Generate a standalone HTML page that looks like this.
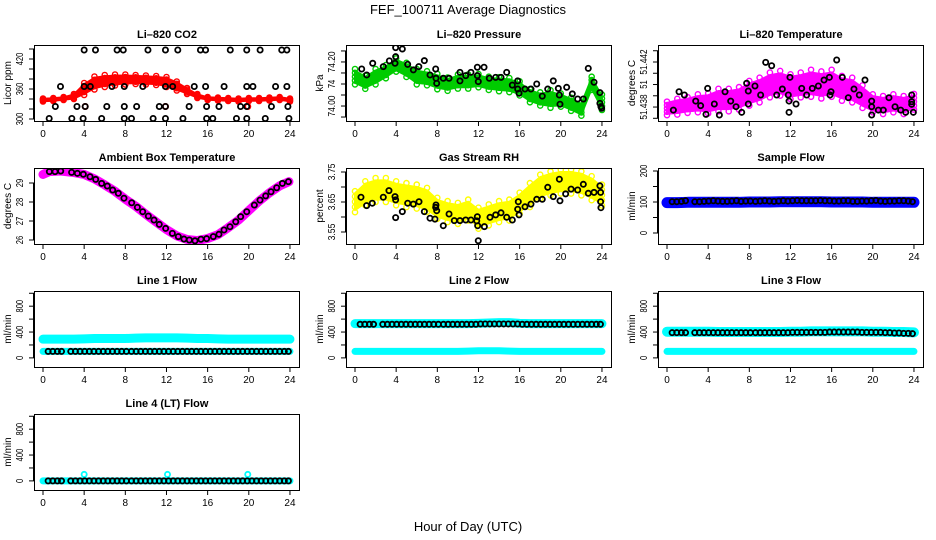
<!DOCTYPE html>
<html><head><meta charset="utf-8"><title>FEF_100711 Average Diagnostics</title>
<style>
html,body{margin:0;padding:0;background:#fff;}
svg{display:block;font-family:"Liberation Sans",Arial,sans-serif;}
</style></head>
<body>
<svg id="chart" width="936" height="540" viewBox="0 0 936 540" xmlns="http://www.w3.org/2000/svg">
<rect x="0" y="0" width="936" height="540" fill="#fff"/>
<text x="468" y="14" text-anchor="middle" font-size="13">FEF_100711  Average Diagnostics</text>
<text x="468" y="531" text-anchor="middle" font-size="13">Hour of Day (UTC)</text>
</svg>
<script>
// ---------- data ----------
const HOURS25 = [0,1,2,3,4,5,6,7,8,9,10,11,12,13,14,15,16,17,18,19,20,21,22,23,24];
const XTICKS = [0,4,8,12,16,20,24];

// Li-820 CO2
const co2Center = [338,339,341,345,360,372,376,378,379,379,378,377,374,366,356,346,341,340,339,338,339,339,340,341,338];
const co2Spread = [3,3,3,5,12,13,12,11,10,9,9,9,10,9,6,4,3,3,3,3,3,3,3,3,3];
const co2RedHours = [4.1,11.9,19.9];
const co2RedVals = [325,325,325];
const co2BlackHours = [4.0,5.1,7.2,7.8,10.2,11.9,13.1,15.3,15.8,18.2,19.8,21.1,23.2,23.7,
 1.7,4.0,4.6,6.7,7.9,9.7,11.9,12.6,14.7,15.8,17.6,19.8,20.4,22.6,23.7,
 1.2,3.3,4.1,6.2,7.9,9.1,11.3,11.9,14.2,15.9,17.1,19.2,19.8,22.2,23.8,
 0.6,2.8,3.9,5.7,7.9,8.6,10.7,11.9,13.6,15.9,16.5,18.8,19.8,21.6,23.9];
const co2BlackVals = [438,438,438,438,438,438,438,438,438,438,438,438,438,438,
 365,365,365,365,365,365,365,365,365,365,365,365,365,365,365,
 325,325,325,325,325,325,325,325,325,325,325,325,325,325,325,
 301,301,301,301,301,301,301,301,301,301,301,301,301,301,301];

// Li-820 Pressure
const presCenter = [74.133,74.108,74.133,74.156,74.186,74.164,74.133,74.126,74.111,74.099,74.111,74.111,74.115,74.103,74.099,74.095,74.080,74.047,74.032,74.032,74.027,74.008,73.986,74.103,74.017];
const presSpread = [0.035,0.03,0.035,0.03,0.03,0.032,0.035,0.032,0.035,0.03,0.032,0.032,0.03,0.03,0.032,0.032,0.032,0.03,0.03,0.04,0.03,0.03,0.03,0.03,0.035];
const presBlackHours = [0.65,1.14,1.72,2.75,3.34,3.95,3.95,3.89,4.6,5.12,5.67,6.2,6.74,7.29,7.84,7.87,7.94,8.58,9.14,10.2,10.2,10.76,11.27,11.89,11.89,11.98,12.54,13.05,13.67,14.19,14.74,15.29,15.81,15.81,15.94,16.52,17.1,17.66,18.2,18.73,19.27,19.76,19.86,19.92,20.57,21.12,21.64,22.19,22.67,23.23,23.8,23.8,23.9,23.97];
const presBlackVals = [74.168,74.141,74.194,74.179,74.205,74.265,74.224,74.194,74.259,74.189,74.164,74.179,74.206,74.141,74.168,74.126,74.103,74.126,74.126,74.153,74.114,74.138,74.153,74.176,74.138,74.111,74.176,74.126,74.13,74.13,74.153,74.095,74.114,74.077,74.058,74.077,74.077,74.1,74.045,74.077,74.114,74.08,74.05,74.008,74.085,74.055,74.032,74.032,74.171,74.108,74.061,74.012,73.997,73.99];

// Li-820 Temperature
const tempCenter = [51.43788,51.43803,51.43818,51.43833,51.43833,51.43862,51.43862,51.43877,51.43922,51.43951,51.43996,51.44011,51.43981,51.43996,51.44011,51.43996,51.44011,51.43966,51.43951,51.43892,51.43833,51.43818,51.43833,51.43818,51.43847];
const tempSpread = [0.0006,0.0007,0.0007,0.0008,0.0009,0.0010,0.0010,0.0010,0.0011,0.0011,0.0011,0.0011,0.0011,0.0011,0.0012,0.0012,0.0012,0.0011,0.0011,0.0010,0.0008,0.0008,0.0008,0.0008,0.0007];
const tempBlackHours = [0.62,1.17,1.69,2.79,3.27,3.79,3.95,4.6,5.09,5.64,6.19,6.71,7.26,7.74,7.9,7.9,8.55,9.1,9.59,10.17,10.66,11.21,11.79,11.86,11.95,11.86,12.54,13.09,13.57,14.12,14.71,15.26,15.78,15.84,15.94,16.49,17.04,17.62,18.17,18.69,19.24,19.89,19.89,19.89,20.54,21.02,21.57,22.16,22.71,23.2,23.78,23.78,23.78,23.94];
const tempBlackVals = [51.43773,51.43936,51.43907,51.43853,51.43812,51.43735,51.43966,51.43827,51.43729,51.43936,51.43853,51.43803,51.43753,51.44011,51.43942,51.43827,51.43987,51.43907,51.44197,51.44167,51.43907,51.4396,51.43907,51.43853,51.44064,51.43753,51.43827,51.43966,51.43907,51.43966,51.43987,51.4404,51.44064,51.43907,51.43936,51.44218,51.44064,51.43883,51.4396,51.43907,51.4404,51.43853,51.43803,51.43729,51.43773,51.43773,51.43883,51.43803,51.43773,51.43753,51.43907,51.43847,51.43824,51.43753];

// Ambient Box Temperature
const ambMagHours = [0,0.6,1.7,3,4,5,6,7,8,9,10,11,12,13,14,15,16,17,18,19,20,21,22,23,23.9];
const ambMagVals = [29.45,29.6,29.63,29.55,29.45,29.22,28.9,28.56,28.15,27.78,27.35,26.95,26.55,26.22,26.03,25.97,26.08,26.28,26.65,27.05,27.55,28.05,28.48,28.85,29.07];
const ambBlackHours = [0.62,1.17,1.72,2.78,3.34,3.92,4.57,5.12,5.7,6.25,6.77,7.32,7.87,8.62,9.17,9.69,10.24,10.79,11.3,11.92,12.57,13.15,13.7,14.22,14.77,15.35,15.9,16.55,17.1,17.59,18.17,18.73,19.21,19.8,20.54,21.09,21.64,22.16,22.71,23.26,23.85];
const ambBlackVals = [29.6,29.6,29.63,29.56,29.51,29.46,29.33,29.19,28.98,28.84,28.63,28.46,28.2,27.96,27.72,27.49,27.26,27.05,26.82,26.61,26.35,26.18,26.05,26.0,25.96,26.04,26.07,26.18,26.3,26.53,26.7,26.96,27.23,27.49,27.84,28.1,28.32,28.54,28.75,28.98,29.07];

// Gas Stream RH
const rhCenter = [3.651,3.679,3.69,3.69,3.679,3.673,3.668,3.657,3.629,3.618,3.612,3.623,3.596,3.607,3.618,3.623,3.646,3.673,3.701,3.712,3.718,3.718,3.712,3.696,3.673];
const rhSpread = [0.035,0.04,0.04,0.04,0.04,0.04,0.04,0.04,0.035,0.035,0.035,0.035,0.035,0.035,0.035,0.035,0.035,0.04,0.04,0.04,0.04,0.04,0.04,0.04,0.035];
const rhBlackHours = [0.58,1.13,1.68,2.75,3.3,3.89,3.95,3.95,4.6,5.12,5.67,6.22,6.74,7.29,7.77,7.84,7.87,7.94,8.58,9.14,9.65,10.2,10.76,11.27,11.83,11.89,11.92,11.98,12.57,13.12,13.67,14.19,14.74,15.29,15.81,15.87,15.94,16.52,17.1,17.66,18.2,18.73,19.27,19.86,19.92,20.47,21.0,21.64,22.19,22.67,23.23,23.8,23.87,23.87,23.9];
const rhBlackVals = [3.666,3.638,3.646,3.666,3.688,3.668,3.657,3.598,3.618,3.646,3.643,3.651,3.618,3.596,3.593,3.632,3.64,3.621,3.571,3.61,3.588,3.588,3.59,3.59,3.587,3.601,3.571,3.521,3.568,3.599,3.607,3.614,3.599,3.59,3.626,3.651,3.607,3.634,3.643,3.659,3.659,3.699,3.668,3.726,3.654,3.677,3.693,3.69,3.709,3.679,3.682,3.704,3.682,3.651,3.631];

// Flows
const sampleBlue = [98,98,99,99,99,99,99,99,100,100,100,101,101,101,101,101,100,100,100,100,99,99,99,99,99];
const line1Upper = [290,290,290,290,295,300,300,300,300,305,310,310,310,310,305,300,300,295,290,290,290,290,290,290,290];
const line1Lower = [100,100,100,100,100,100,100,100,100,100,100,100,100,100,100,100,100,100,100,100,100,100,100,100,100];
const line2Upper = [530,530,530,530,530,530,530,530,530,530,530,530,535,540,545,545,535,530,530,530,530,530,530,530,530];
const line2Lower = [100,100,100,100,100,100,100,100,100,100,100,105,110,110,110,105,100,100,100,100,100,100,100,100,100];
const line3Upper = [405,405,405,405,405,400,400,400,400,400,400,400,405,405,410,410,410,410,410,410,405,405,400,400,395];
const line3Lower = [100,100,100,100,100,100,100,100,100,100,100,100,100,100,100,100,100,100,100,100,100,100,100,100,100];
const line4Cyan = [0,0,0,0,0,0,0,0,0,0,0,0,0,0,0,0,0,0,0,0,0,0,0,0,0];
const line4OutHours = [4.0,12.1,19.9];
const line4OutVals = [100,100,100];
const flowHours = [0.5,0.95,1.4,1.8,2.7,3.15,3.6,4.05,4.5,4.95,5.4,5.85,6.3,6.75,7.2,7.65,8.1,8.6,9.05,9.5,9.95,10.4,10.85,11.3,11.75,12.2,12.65,13.1,13.55,14.0,14.45,14.9,15.35,15.8,16.25,16.7,17.15,17.6,18.05,18.5,18.95,19.4,19.85,20.3,20.75,21.2,21.65,22.1,22.55,23.0,23.45,23.85];
const sampleBlack = [101,101,102,104,101,101,102,103,104,103,102,102,103,104,102,103,103,102,103,104,103,102,103,104,103,104,105,104,104,104,104,105,104,104,103,103,104,104,102,102,103,103,104,105,103,102,103,103,104,104,103,101];
const line1Black = [100,100,100,100,100,100,100,100,100,100,100,100,100,100,100,100,100,100,100,100,100,100,100,100,100,100,100,100,100,100,100,100,100,100,100,100,100,100,100,100,100,100,100,100,100,100,100,100,100,100,100,100];
const line2Black = [520,520,520,520,520,520,520,520,520,520,520,520,520,520,520,520,520,520,520,520,520,520,520,520,520,525,525,525,525,525,525,525,525,525,520,520,520,520,520,520,520,520,520,520,520,520,520,520,520,520,520,520];
const line3Black = [390,390,390,390,390,390,390,390,390,390,390,390,390,390,390,390,390,390,390,390,390,390,390,390,390,395,395,395,395,395,395,395,395,400,400,400,400,400,400,400,395,395,395,395,395,390,390,385,385,380,380,375];
const line4Black = [0,0,0,0,0,0,0,0,0,0,0,0,0,0,0,0,0,0,0,0,0,0,0,0,0,0,0,0,0,0,0,0,0,0,0,0,0,0,0,0,0,0,0,0,0,0,0,0,0,0,0,0];

// ---------- drawing ----------
const svg = document.getElementById('chart');
const NS = 'http://www.w3.org/2000/svg';
const ROW_TOPS = [45,168,291,414];
function mk(tag, attrs, parent){
  const e = document.createElementNS(NS, tag);
  for (const k in attrs) e.setAttribute(k, attrs[k]);
  (parent || svg).appendChild(e);
  return e;
}
const defs = mk('defs', {});
let clipId = 0;

function makePanel(c, r, lo, hi, title, ylab, ticks, tickLabels, slug){
  const left = 34 + 312*c, right = 300 + 312*c, top = ROW_TOPS[r], bottom = top + 76;
  const g = mk('g', {});
  
  
  const P = {g, left, right, top, bottom,
    xs: h => left + 9 + h*10.29,
    ys: v => bottom - (v - lo)/(hi - lo)*76};
  const t = mk('text', {x:(left+right)/2, y: top-7, 'text-anchor':'middle', 'font-size':11, 'font-weight':'bold'}, g);
  t.textContent = title;
  
  
  const yl = mk('text', {transform:`translate(${left-23},${(top+bottom)/2}) rotate(-90)`, 'text-anchor':'middle', 'font-size':10}, g);
  yl.textContent = ylab;
  
  
  const yAxis = mk('g', {stroke:'#000', 'stroke-width':1}, g);
  
  
  mk('line', {x1:left-0.5, x2:left-0.5, y1:P.ys(ticks[0]), y2:P.ys(ticks[ticks.length-1])}, yAxis);
  ticks.forEach((tv, i) => {
    const y = P.ys(tv);
    mk('line', {x1:left-5, x2:left, y1:y, y2:y}, yAxis);
    if (tickLabels[i]) {
      const lb = mk('text', {transform:`translate(${left-11},${y}) rotate(-90)`, 'text-anchor':'middle', 'font-size':10, stroke:'none', fill:'#000',
        textLength: tickLabels[i].length*4.2, lengthAdjust:'spacingAndGlyphs'}, g);
      lb.textContent = tickLabels[i];
      
      
    }
  });
  const xAxis = mk('g', {stroke:'#000', 'stroke-width':1}, g);
  
  
  mk('line', {x1:P.xs(0), x2:P.xs(24), y1:bottom+0.5, y2:bottom+0.5}, xAxis);
  XTICKS.forEach(h => {
    const x = P.xs(h);
    mk('line', {x1:x, x2:x, y1:bottom, y2:bottom+5}, xAxis);
    const lb = mk('text', {x:x, y:bottom+16, 'text-anchor':'middle', 'font-size':10, stroke:'none', fill:'#000'}, g);
    lb.textContent = String(h);
    
    
  });
  clipId++;
  const cp = mk('clipPath', {id:'clip'+clipId}, defs);
  mk('rect', {x:left, y:top, width:right-left, height:bottom-top}, cp);
  P.data = mk('g', {'clip-path':`url(#clip${clipId})`}, g);
  
  
  const box = mk('rect', {x:left+0.5, y:top+0.5, width:right-left-1, height:bottom-top, fill:'none', stroke:'#000', 'stroke-width':1}, g);
  
  
  return P;
}

function band(P, hours, center, spread, color, name){
  const up = hours.map((h,i) => `${P.xs(h)},${P.ys(center[i]+spread[i]*0.8)}`);
  const dn = hours.map((h,i) => `${P.xs(h)},${P.ys(center[i]-spread[i]*0.8)}`).reverse();
  const pg = mk('polygon', {points: up.concat(dn).join(' '), fill:color, stroke:color, 'stroke-width':2, 'stroke-linejoin':'round'}, P.data);
  
  
  hours.forEach((h,i) => {
    [-1,-0.5,0,0.5,1].forEach(k => {
      const ci = mk('circle', {cx:P.xs(h), cy:P.ys(center[i]+k*spread[i]), r:2.6, fill:'none', stroke:color, 'stroke-width':1.4}, P.data);
      
      
    });
  });
}
function thickLine(P, hours, vals, color, width, name){
  const pl = mk('polyline', {points: hours.map((h,i)=>`${P.xs(h)},${P.ys(vals[i])}`).join(' '), fill:'none', stroke:color, 'stroke-width':width, 'stroke-linecap':'round', 'stroke-linejoin':'round'}, P.data);
  
  
}
function points(P, hours, vals, color, name){
  hours.forEach((h,i) => {
    const ci = mk('circle', {cx:P.xs(h), cy:P.ys(vals[i]), r:2.6, fill:'none', stroke:color, 'stroke-width':1.8}, P.data);
    
    
  });
}

const FLOW_TICKS = [0,200,400,600,800,1000];
const FLOW_LABELS = ['0','','400','','800',''];

const p1 = makePanel(0,0,296,448,'Li–820 CO2','Licor ppm',[300,320,340,360,380,400,420,440],['300','','','360','','','420',''],'co2');
band(p1, HOURS25, co2Center, co2Spread, '#ff0000', 'co2-series-band');
points(p1, co2RedHours, co2RedVals, '#ff0000', 'co2-red-point');
points(p1, co2BlackHours, co2BlackVals, '#000', 'co2-average-point');

const p2 = makePanel(1,0,73.932,74.277,'Li–820 Pressure','kPa',[73.95,74.0,74.05,74.1,74.15,74.2,74.25],['','74.00','','74','','74.20',''],'pressure');
band(p2, HOURS25, presCenter, presSpread, '#00cc00', 'pressure-series-band');
points(p2, presBlackHours, presBlackVals, '#000', 'pressure-average-point');

const p3 = makePanel(2,0,51.43676,51.44351,'Li–820 Temperature','degrees C',[51.437,51.438,51.439,51.44,51.441,51.442,51.443],['','51.438','','51','','51.442',''],'licor-temp');
band(p3, HOURS25, tempCenter, tempSpread, '#ff00ff', 'licor-temp-series-band');
points(p3, tempBlackHours, tempBlackVals, '#000', 'licor-temp-average-point');

const p4 = makePanel(0,1,25.79,29.79,'Ambient Box Temperature','degrees C',[26,27,28,29],['26','27','28','29'],'ambient');
thickLine(p4, ambMagHours, ambMagVals, '#ff00ff', 9, 'ambient-series-line');
points(p4, ambBlackHours, ambBlackVals, '#000', 'ambient-average-point');

const p5 = makePanel(1,1,3.51,3.7633,'Gas Stream RH','percent',[3.55,3.6,3.65,3.7,3.75],['3.55','','3.65','','3.75'],'rh');
band(p5, HOURS25, rhCenter, rhSpread, '#ffff00', 'rh-series-band');
points(p5, rhBlackHours, rhBlackVals, '#000', 'rh-average-point');

const p6 = makePanel(2,1,-35.5,209.7,'Sample Flow','ml/min',[0,50,100,150,200],['0','','100','','200'],'sample-flow');
thickLine(p6, HOURS25, sampleBlue, '#0000ff', 11, 'sample-flow-series-line');
points(p6, flowHours, sampleBlack, '#000', 'sample-flow-average-point');

const p7 = makePanel(0,2,-141,1035,'Line 1 Flow','ml/min',FLOW_TICKS,FLOW_LABELS,'line1-flow');
thickLine(p7, HOURS25, line1Upper, '#00ffff', 9, 'line1-upper-series');
thickLine(p7, HOURS25, line1Lower, '#00ffff', 7, 'line1-lower-series');
points(p7, flowHours, line1Black, '#000', 'line1-average-point');

const p8 = makePanel(1,2,-141,1035,'Line 2 Flow','ml/min',FLOW_TICKS,FLOW_LABELS,'line2-flow');
thickLine(p8, HOURS25, line2Upper, '#00ffff', 9, 'line2-upper-series');
thickLine(p8, HOURS25, line2Lower, '#00ffff', 7, 'line2-lower-series');
points(p8, flowHours, line2Black, '#000', 'line2-average-point');

const p9 = makePanel(2,2,-141,1035,'Line 3 Flow','ml/min',FLOW_TICKS,FLOW_LABELS,'line3-flow');
thickLine(p9, HOURS25, line3Upper, '#00ffff', 10, 'line3-upper-series');
thickLine(p9, HOURS25, line3Lower, '#00ffff', 7, 'line3-lower-series');
points(p9, flowHours, line3Black, '#000', 'line3-average-point');

const p10 = makePanel(0,3,-141,1035,'Line 4 (LT) Flow','ml/min',FLOW_TICKS,FLOW_LABELS,'line4-flow');
thickLine(p10, HOURS25, line4Cyan, '#00ffff', 7, 'line4-series');
points(p10, line4OutHours, line4OutVals, '#00ffff', 'line4-outlier-point');
points(p10, flowHours, line4Black, '#000', 'line4-average-point');
</script>
</body></html>
